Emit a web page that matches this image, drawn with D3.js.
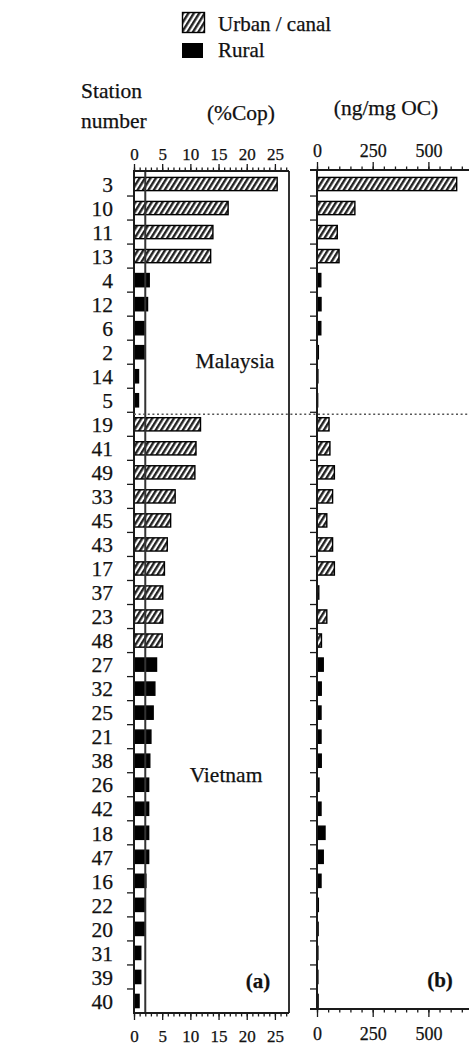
<!DOCTYPE html>
<html>
<head>
<meta charset="utf-8">
<script src="https://cdn.jsdelivr.net/npm/d3@7"></script>
<style>
  html, body { margin: 0; padding: 0; background: #fff; }
  svg { display: block; }
</style>
</head>
<body>
<svg id="chart" width="469" height="1047"></svg>
<script>
// Station order, top to bottom
const stations = ["3","10","11","13","4","12","6","2","14","5",
                  "19","41","49","33","45","43","17","37","23","48",
                  "27","32","25","21","38","26","42","18","47","16",
                  "22","20","31","39","40"];
// Land use of each station: U = urban / canal, R = rural
const landUse = ["U","U","U","U","R","R","R","R","R","R",
                 "U","U","U","U","U","U","U","U","U","U",
                 "R","R","R","R","R","R","R","R","R","R",
                 "R","R","R","R","R"];
// Country of each station
const country = ["Malaysia","Malaysia","Malaysia","Malaysia","Malaysia","Malaysia","Malaysia","Malaysia","Malaysia","Malaysia",
                 "Vietnam","Vietnam","Vietnam","Vietnam","Vietnam","Vietnam","Vietnam","Vietnam","Vietnam","Vietnam",
                 "Vietnam","Vietnam","Vietnam","Vietnam","Vietnam","Vietnam","Vietnam","Vietnam","Vietnam","Vietnam",
                 "Vietnam","Vietnam","Vietnam","Vietnam","Vietnam"];
// (a) coprostanol as % of total sterols
const copPercent = [25.4,16.7,14.0,13.6,2.7,2.4,1.8,1.8,0.8,0.8,
                    11.8,11.0,10.8,7.3,6.5,5.9,5.4,5.1,5.1,5.0,
                    4.0,3.7,3.4,3.0,2.8,2.6,2.6,2.6,2.6,2.1,
                    2.0,2.0,1.2,1.2,0.9];
// (b) coprostanol normalised to organic carbon
const copPerOC = [627,170,91,99,17,18,17,6,4,3,
                  54,58,78,70,44,70,78,8,44,20,
                  28,19,18,18,19,9,18,36,28,18,
                  6,5,4,4,5];
const copThreshold = 2;          // %Cop reference line
const ticksA = [0,5,10,15,20,25];
const ticksB = [0,250,500];
const legendItems = ["Urban / canal","Rural"];

const rows = stations.map((s,i) => ({station:s, use:landUse[i], country:country[i], a:copPercent[i], b:copPerOC[i]}));

const serif = "'Liberation Serif', 'Times New Roman', serif";
const svg = d3.select("#chart");
svg.append("rect").attr("width",469).attr("height",1047).attr("fill","#fff");

// hatch pattern
const defs = svg.append("defs");
const pat = defs.append("pattern").attr("id","hatch").attr("patternUnits","userSpaceOnUse")
  .attr("width",4.6).attr("height",5).attr("patternTransform","rotate(32)");
pat.append("rect").attr("width",4.6).attr("height",5).attr("fill","#fff");
pat.append("rect").attr("x",0).attr("width",2.4).attr("height",5).attr("fill","#222");

const fillFor = d => d.use === "U" ? "url(#hatch)" : "#000";

const y = d3.scaleBand().domain(stations).range([172, 1013]).paddingInner(0.45).paddingOuter(0.225);
const yTop = 171, yBottom = 1013;

const xA = d3.scaleLinear().domain([0, 27.5]).range([134, 289]);
const xB = d3.scaleLinear().domain([0, 680]).range([317, 468.5]);

const ink = "#1a1a1a";

// serif text with a hairline stroke for a printed look
function label(sel) {
  return sel.style("font-family", serif).attr("fill", "#111")
    .attr("stroke", "#111").attr("stroke-width", 0.25);
}

// ---------- panel (a) ----------
const gA = svg.append("g");
gA.selectAll("rect.bar").data(rows).join("rect").attr("class","bar")
  .attr("x", xA(0)).attr("y", d => y(d.station))
  .attr("width", d => xA(d.a) - xA(0)).attr("height", y.bandwidth())
  .attr("fill", fillFor).attr("stroke","#000").attr("stroke-width",1.4);

// threshold line
gA.append("line").attr("x1", xA(copThreshold)).attr("x2", xA(copThreshold))
  .attr("y1", yTop).attr("y2", yBottom).attr("stroke","#333").attr("stroke-width",2);

// frame right side
gA.append("line").attr("x1", 289).attr("x2", 289).attr("y1", yTop).attr("y2", yBottom)
  .attr("stroke","#333").attr("stroke-width",2);

function styleAxis(g, fontSize, path) {
  g.attr("font-family", null);
  g.select(".domain").attr("stroke",ink).attr("stroke-width",2).attr("d", path);
  g.selectAll(".tick line").attr("stroke",ink).attr("stroke-width",1.3);
  label(g.selectAll(".tick text")).attr("font-size",fontSize);
}

// top axis
const topMinorA = d3.axisTop(xA).tickValues(d3.range(0,28)).tickSize(3.5).tickSizeOuter(0).tickFormat("");
const topMajorA = d3.axisTop(xA).tickValues(ticksA).tickSize(7).tickSizeOuter(0).tickPadding(4);
[topMinorA, topMajorA].forEach(ax => {
  const g = gA.append("g").attr("transform",`translate(0,${yTop})`).call(ax);
  styleAxis(g, 17, `M${xA(0)-1},0H289`);
});
// bottom axis
const botMinorA = d3.axisBottom(xA).tickValues(d3.range(0,28)).tickSize(3.5).tickSizeOuter(0).tickFormat("");
const botMajorA = d3.axisBottom(xA).tickValues(ticksA).tickSize(7).tickSizeOuter(0).tickPadding(10);
[botMinorA, botMajorA].forEach(ax => {
  const g = gA.append("g").attr("transform",`translate(0,${yBottom})`).call(ax);
  styleAxis(g, 17, `M${xA(0)-1},0H289`);
});

// left axis with ticks at row boundaries
gA.append("line").attr("x1",xA(0)).attr("x2",xA(0)).attr("y1",yTop).attr("y2",yBottom)
  .attr("stroke",ink).attr("stroke-width",2);
const boundaries = d3.range(1, stations.length).map(i => y(stations[i]) - y.step()*y.paddingInner()/2);
gA.selectAll("line.ytick").data(boundaries).join("line").attr("class","ytick")
  .attr("x1", xA(0)-7).attr("x2", xA(0)).attr("y1", d => d).attr("y2", d => d)
  .attr("stroke",ink).attr("stroke-width",1.3);

// station labels
label(gA.selectAll("text.station").data(rows).join("text").attr("class","station"))
  .attr("x", 113).attr("y", d => y(d.station) + y.bandwidth()/2)
  .attr("dy","0.36em").attr("text-anchor","end").attr("font-size",21.5)
  .text(d => d.station);

// country labels
const countryNames = ["Malaysia","Vietnam"];
const countryPos = [{x:235, row:"14", dy:-2}, {x:226, row:"26", dy:4}];
countryNames.forEach((c,i) => {
  label(gA.append("text")).attr("x", countryPos[i].x)
    .attr("y", y(countryPos[i].row) + countryPos[i].dy)
    .attr("text-anchor","middle").attr("font-size",21.5).text(c);
});
label(gA.append("text")).attr("x",258).attr("y",988).attr("text-anchor","middle")
  .attr("font-size",21).attr("font-weight","bold").text("(a)");

// ---------- panel (b) ----------
const gB = svg.append("g");
gB.selectAll("rect.bar").data(rows).join("rect").attr("class","bar")
  .attr("x", xB(0)).attr("y", d => y(d.station))
  .attr("width", d => xB(d.b) - xB(0)).attr("height", y.bandwidth())
  .attr("fill", fillFor).attr("stroke","#000").attr("stroke-width",1.4);

const bBottom = 1009;
const topMinorB = d3.axisTop(xB).tickValues(d3.range(0,700,50)).tickSize(3.5).tickSizeOuter(0).tickFormat("");
const topMajorB = d3.axisTop(xB).tickValues(ticksB).tickSize(8).tickSizeOuter(0).tickPadding(5);
[topMinorB, topMajorB].forEach(ax => {
  const g = gB.append("g").attr("transform",`translate(0,${yTop-1})`).call(ax);
  styleAxis(g, 18, "M310,0H469");
});
const botMinorB = d3.axisBottom(xB).tickValues(d3.range(0,700,50)).tickSize(3.5).tickSizeOuter(0).tickFormat("");
const botMajorB = d3.axisBottom(xB).tickValues(ticksB).tickSize(8).tickSizeOuter(0).tickPadding(10);
[botMinorB, botMajorB].forEach(ax => {
  const g = gB.append("g").attr("transform",`translate(0,${bBottom})`).call(ax);
  styleAxis(g, 18, "M310,0H469");
});
gB.append("line").attr("x1",xB(0)).attr("x2",xB(0)).attr("y1",yTop-1).attr("y2",bBottom)
  .attr("stroke",ink).attr("stroke-width",2);
gB.selectAll("line.ytick").data(boundaries).join("line").attr("class","ytick")
  .attr("x1", xB(0)-7).attr("x2", xB(0)).attr("y1", d => d).attr("y2", d => d)
  .attr("stroke",ink).attr("stroke-width",1.3);
label(gB.append("text")).attr("x",440).attr("y",987).attr("text-anchor","middle")
  .attr("font-size",21).attr("font-weight","bold").text("(b)");

// country divider
const splitIdx = country.indexOf("Vietnam");
const splitY = y(stations[splitIdx]) - y.step()*y.paddingInner()/2 + 2;
svg.append("line").attr("x1", xA(0)).attr("x2", 469).attr("y1", splitY).attr("y2", splitY)
  .attr("stroke","#555").attr("stroke-width",1.6).attr("stroke-dasharray","2,2.6");

// ---------- titles ----------
label(svg.append("text")).attr("x",81).attr("y",98).attr("font-size",21.5).text("Station");
label(svg.append("text")).attr("x",81).attr("y",128).attr("font-size",21.5).text("number");
label(svg.append("text")).attr("x",241).attr("y",120).attr("text-anchor","middle").attr("font-size",21.5).text("(%Cop)");
label(svg.append("text")).attr("x",386).attr("y",115).attr("text-anchor","middle").attr("font-size",21.5).text("(ng/mg OC)");

// ---------- legend ----------
const legend = svg.append("g");
legend.append("rect").attr("x",182.5).attr("y",12.5).attr("width",22).attr("height",20)
  .attr("fill","url(#hatch)").attr("stroke","#000").attr("stroke-width",1.4);
legend.append("rect").attr("x",182).attr("y",43).attr("width",21).attr("height",15).attr("fill","#000");
label(legend.append("text")).attr("x",218).attr("y",31).attr("font-size",21).text(legendItems[0]);
label(legend.append("text")).attr("x",218).attr("y",57).attr("font-size",21).text(legendItems[1]);
</script>
</body>
</html>
